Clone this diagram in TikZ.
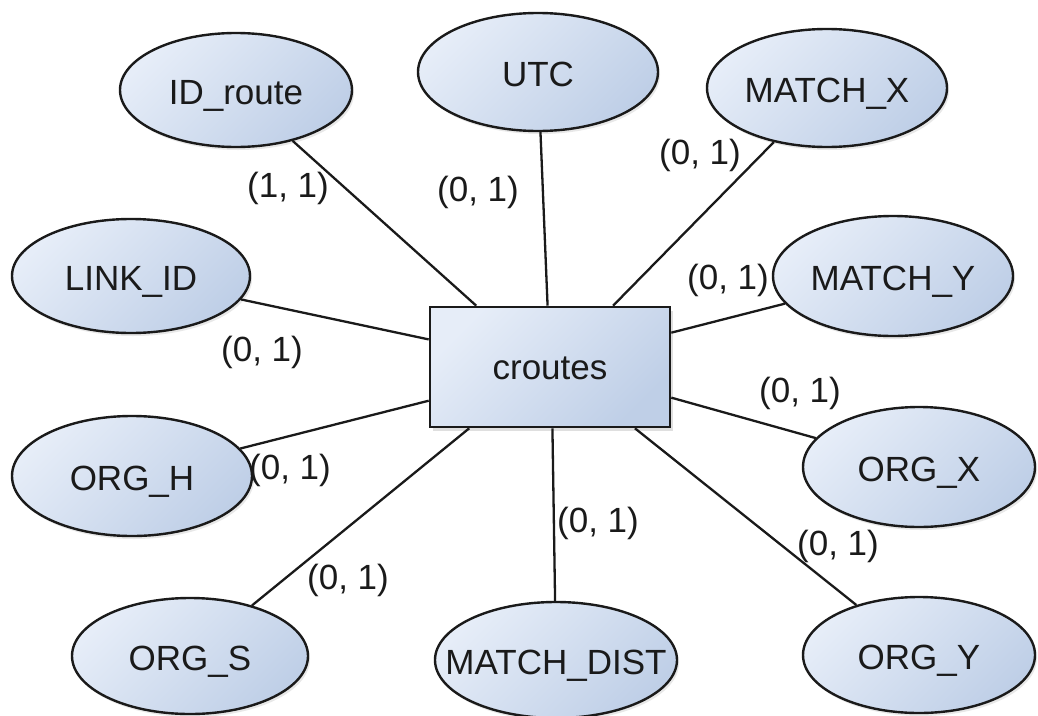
\documentclass[tikz,border=0pt]{standalone}
\usepackage{fontspec}
\setmainfont{Liberation Sans}
\usetikzlibrary{shapes.geometric,shadows,calc}
\definecolor{gl}{HTML}{E6EDF8}
\definecolor{gd}{HTML}{BFCFE7}
\definecolor{ink}{HTML}{1A1A1A}
\begin{document}
\begin{tikzpicture}[x=1pt,y=-1pt,
  bigfont/.style={font=\fontsize{35}{40}\selectfont},
  grad/.style={top color=gl, bottom color=gd, shading angle=45},
  attr/.style={ellipse, draw=ink, line width=2.4pt, grad,
    inner sep=0pt, drop shadow={opacity=0.18, shadow xshift=2pt, shadow yshift=-3pt}},
  ent/.style={rectangle, draw=ink, line width=2.6pt, grad,
    minimum width=240pt, minimum height=120pt, bigfont, text=ink,
    text height=25pt, text depth=0pt,
    drop shadow={opacity=0.25, shadow xshift=3pt, shadow yshift=-4pt}},
  conn/.style={draw=ink, line width=2.3pt},
  card/.style={bigfont, text=ink, inner sep=0pt},
  every label/.style={bigfont, text=ink, inner sep=0pt, text height=25pt, text depth=0pt, yshift=-1.5pt}
]
\useasboundingbox[fill=white] (0,0) rectangle (1038,715);

% central entity
\node[ent] (r) at (550,367) {croutes};

% attributes
\node[attr, minimum width=232pt, minimum height=114pt, label=center:ID\_route] (idr) at (236,90) {};
\node[attr, minimum width=240pt, minimum height=118pt, label=center:UTC] (utc) at (538,72) {};
\node[attr, minimum width=240pt, minimum height=118pt, label=center:MATCH\_X] (mx) at (827,88) {};
\node[attr, minimum width=238pt, minimum height=114pt, label=center:LINK\_ID] (lid) at (131,276) {};
\node[attr, minimum width=240pt, minimum height=120pt, label=center:MATCH\_Y] (my) at (893,276) {};
\node[attr, minimum width=240pt, minimum height=120pt, label=center:ORG\_H] (oh) at (132,476) {};
\node[attr, minimum width=232pt, minimum height=120pt, label=center:ORG\_X] (ox) at (919,467) {};
\node[attr, minimum width=236pt, minimum height=116pt, label=center:ORG\_S] (os) at (190,656) {};
\node[attr, minimum width=242pt, minimum height=116pt, label=center:MATCH\_DIST] (md) at (556,660) {};
\node[attr, minimum width=232pt, minimum height=116pt, label=center:ORG\_Y] (oy) at (919,655) {};

% attachment points on the entity
\coordinate (t1) at ($(r.north west)!0.196!(r.north east)$);
\coordinate (t2) at ($(r.north west)!0.49!(r.north east)$);
\coordinate (t3) at ($(r.north west)!0.76!(r.north east)$);
\coordinate (b1) at ($(r.south west)!0.167!(r.south east)$);
\coordinate (b2) at ($(r.south west)!0.51!(r.south east)$);
\coordinate (b3) at ($(r.south west)!0.85!(r.south east)$);
\coordinate (l1) at ($(r.north west)!0.275!(r.south west)$);
\coordinate (l2) at ($(r.north west)!0.775!(r.south west)$);
\coordinate (r1) at ($(r.north east)!0.22!(r.south east)$);
\coordinate (r2) at ($(r.north east)!0.75!(r.south east)$);

% connectors
\draw[conn] (idr) -- (t1);
\draw[conn] (utc) -- (t2);
\draw[conn] (mx) -- (t3);
\draw[conn] (lid) -- (l1);
\draw[conn] (oh) -- (l2);
\draw[conn] (my) -- (r1);
\draw[conn] (ox) -- (r2);
\draw[conn] (os) -- (b1);
\draw[conn] (md) -- (b2);
\draw[conn] (oy) -- (b3);

% cardinalities
\node[card] (c1) at (288,188) {(1, 1)};
\node[card] (c2) at (478,192) {(0, 1)};
\node[card] (c3) at (700,155) {(0, 1)};
\node[card] (c4) at (728,280) {(0, 1)};
\node[card] (c5) at (262,352) {(0, 1)};
\node[card] (c6) at (800,393) {(0, 1)};
\node[card] (c7) at (290,470) {(0, 1)};
\node[card] (c8) at (348,580) {(0, 1)};
\node[card] (c9) at (598,523) {(0, 1)};
\node[card] (c10) at (838,546) {(0, 1)};
\end{tikzpicture}
\end{document}
